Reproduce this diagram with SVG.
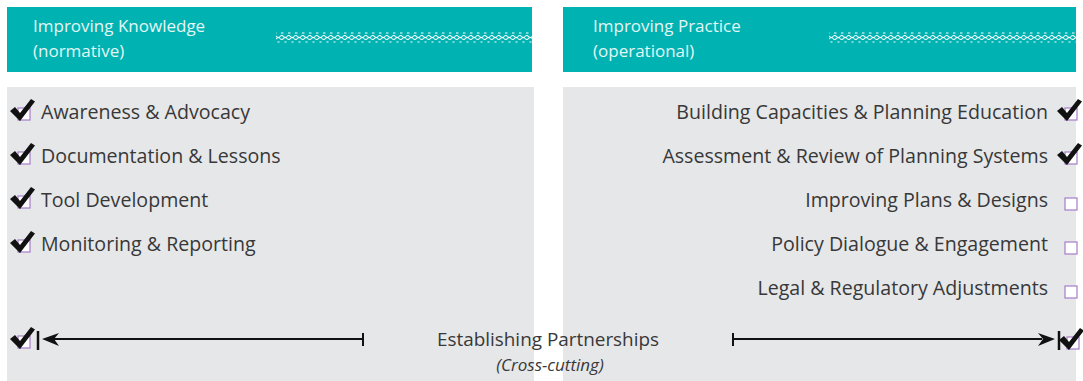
<svg xmlns="http://www.w3.org/2000/svg" width="1083" height="381" viewBox="0 0 1083 381">
  <defs>
    <style>
      .hdr { fill: #00b2b1; }
      .panel { fill: #e6e7e9; }
      .htxt { font-family: "Open Sans", "Noto Sans", sans-serif; font-size: 17px; fill: #e4f6f6; }
      .item { font-family: "Open Sans", "Noto Sans", sans-serif; font-size: 19.6px; fill: #383838; }
      .mid { font-family: "Open Sans", "Noto Sans", sans-serif; font-size: 18.9px; fill: #383838; text-anchor: middle; }
      .sub { font-family: "Open Sans", "Noto Sans", sans-serif; font-size: 17px; font-style: italic; fill: #383838; text-anchor: middle; }
      .box { fill: #ffffff; stroke: #a57cc6; stroke-width: 1.2; }
      .tick { fill: #111111; }
      .line { stroke: #111111; stroke-width: 2; fill: none; }
      .bar { stroke: #111111; stroke-width: 2.5; }
    </style>
    <pattern id="wave" x="0" y="32" width="7" height="11" patternUnits="userSpaceOnUse">
      <path d="M0,4.5 Q1.75,2.5 3.5,4.5 T7,4.5" fill="none" stroke="#ffffff" stroke-width="1.1"/>
      <path d="M0,6.5 Q1.75,8.5 3.5,6.5 T7,6.5" fill="none" stroke="#ffffff" stroke-width="1.1"/>
      <path d="M1,1 h2.5" stroke="#ffffff" stroke-width="1"/>
      <path d="M4.5,10 h2" stroke="#ffffff" stroke-width="1"/>
    </pattern>
    <g id="checked">
      <rect class="box" x="0" y="0" width="12" height="12"/>
      <polygon class="tick" points="-8,3 -3,-1 2,5 13,-9 17,-6.5 2,13"/>
    </g>
    <rect id="unchecked" class="box" x="0" y="0" width="12" height="12"/>
  </defs>

  <g id="header-knowledge">
    <rect class="hdr" x="7" y="7" width="525" height="65"/>
    <text class="htxt" x="33" y="32">Improving Knowledge</text>
    <text class="htxt" x="33" y="57">(normative)</text>
    <rect x="276" y="32" width="256" height="11" fill="url(#wave)"/>
  </g>

  <g id="header-practice">
    <rect class="hdr" x="563" y="7" width="513" height="65"/>
    <text class="htxt" x="593" y="32">Improving Practice</text>
    <text class="htxt" x="593" y="57">(operational)</text>
    <rect x="829" y="32" width="247" height="11" fill="url(#wave)"/>
  </g>

  <g id="panel-knowledge">
    <rect class="panel" x="7" y="87" width="527" height="294"/>
  </g>
  <g id="panel-practice">
    <rect class="panel" x="563" y="87" width="513" height="294"/>
  </g>

  <g id="item-awareness">
    <use href="#checked" x="18" y="108"/>
    <text class="item" x="41" y="119">Awareness &amp; Advocacy</text>
  </g>
  <g id="item-documentation">
    <use href="#checked" x="18" y="152"/>
    <text class="item" x="41" y="163">Documentation &amp; Lessons</text>
  </g>
  <g id="item-tool">
    <use href="#checked" x="18" y="196"/>
    <text class="item" x="41" y="207">Tool Development</text>
  </g>
  <g id="item-monitoring">
    <use href="#checked" x="18" y="240"/>
    <text class="item" x="41" y="251">Monitoring &amp; Reporting</text>
  </g>

  <g id="item-capacities">
    <text class="item" x="1048" y="119" text-anchor="end">Building Capacities &amp; Planning Education</text>
    <use href="#checked" x="1065" y="108"/>
  </g>
  <g id="item-assessment">
    <text class="item" x="1048" y="163" text-anchor="end">Assessment &amp; Review of Planning Systems</text>
    <use href="#checked" x="1065" y="152"/>
  </g>
  <g id="item-plans">
    <text class="item" x="1048" y="207" text-anchor="end">Improving Plans &amp; Designs</text>
    <use href="#unchecked" x="1065" y="198"/>
  </g>
  <g id="item-policy">
    <text class="item" x="1048" y="251" text-anchor="end">Policy Dialogue &amp; Engagement</text>
    <use href="#unchecked" x="1065" y="242"/>
  </g>
  <g id="item-legal">
    <text class="item" x="1048" y="295" text-anchor="end">Legal &amp; Regulatory Adjustments</text>
    <use href="#unchecked" x="1065" y="286"/>
  </g>

  <g id="item-partnerships">
    <use href="#checked" x="18" y="336"/>
    <use href="#checked" x="1067" y="337"/>
    <text class="mid" x="548" y="346">Establishing Partnerships</text>
    <text class="sub" x="550" y="371">(Cross-cutting)</text>
  </g>

  <g id="connectors">
    <line class="bar" x1="38" y1="331" x2="38" y2="350"/>
    <line class="line" x1="54" y1="339" x2="363" y2="339"/>
    <line class="line" x1="363" y1="333" x2="363" y2="346"/>
    <polygon class="tick" points="42,339 59,333 54,339 59,346"/>

    <line class="bar" x1="1059" y1="331" x2="1059" y2="350"/>
    <line class="line" x1="733" y1="339" x2="1042" y2="339"/>
    <line class="line" x1="733" y1="333" x2="733" y2="346"/>
    <polygon class="tick" points="1055,339 1038,333 1043,339 1038,346"/>
  </g>
</svg>
